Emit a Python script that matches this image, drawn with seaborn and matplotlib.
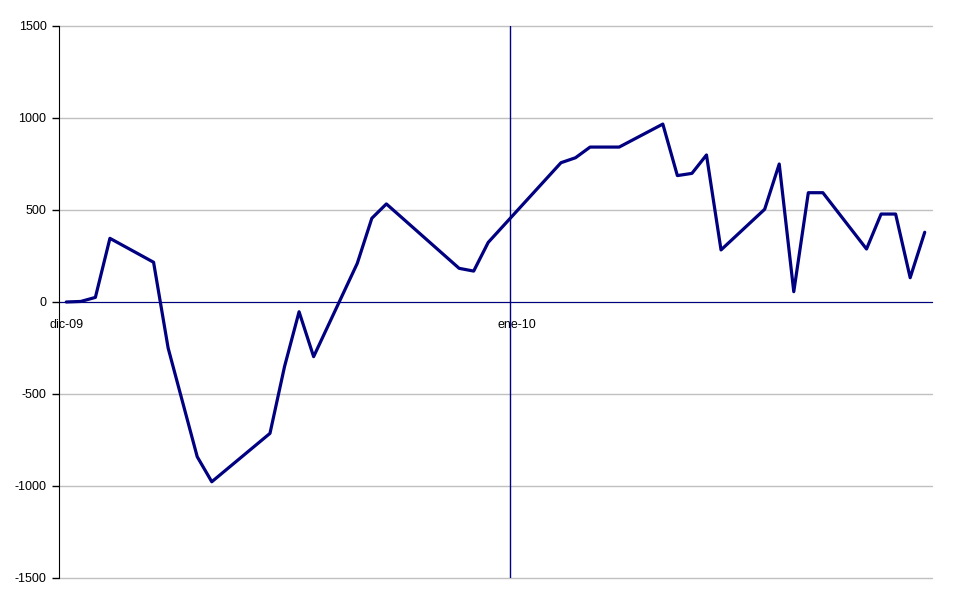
import pandas as pd
import matplotlib
matplotlib.use("Agg")
import matplotlib.pyplot as plt
import seaborn as sns

# fechas (días hábiles) y valores acumulados
dates = [
    "2009-12-01", "2009-12-02", "2009-12-03", "2009-12-04", "2009-12-07",
    "2009-12-08", "2009-12-10", "2009-12-11", "2009-12-15", "2009-12-16",
    "2009-12-17", "2009-12-18", "2009-12-21", "2009-12-22", "2009-12-23",
    "2009-12-28", "2009-12-29", "2009-12-30", "2010-01-04", "2010-01-05",
    "2010-01-06", "2010-01-08", "2010-01-11", "2010-01-12", "2010-01-13",
    "2010-01-14", "2010-01-15", "2010-01-18", "2010-01-19", "2010-01-20",
    "2010-01-21", "2010-01-22", "2010-01-25", "2010-01-26", "2010-01-27",
    "2010-01-28", "2010-01-29",
]
values = [
    0, 3, 25, 346, 216,
    -250, -841, -977, -714, -351,
    -53, -297, 210, 455, 533,
    183, 168, 324, 757, 784,
    842, 842, 967, 687, 699,
    799, 283, 504, 750, 56,
    594, 594, 288, 478, 478,
    132, 379,
]
tick_dates = ["2009-12-01", "2010-01-01"]
tick_labels = ["dic-09", "ene-10"]
yticks = [-1500, -1000, -500, 0, 500, 1000, 1500]
marker_date = "2009-12-31 12:00"

df = pd.DataFrame({"fecha": pd.to_datetime(dates), "valor": values})

sns.set_style("white")
plt.rcParams["font.family"] = ["Liberation Sans", "DejaVu Sans"]

navy = "#000080"
fig = plt.figure(figsize=(9.7, 6.04), dpi=100)
ax = fig.add_axes([59 / 970, 26 / 604, 873 / 970, 552 / 604])

sns.lineplot(data=df, x="fecha", y="valor", color=navy, linewidth=2.3, ax=ax)
ax.axvline(pd.Timestamp(marker_date), color=navy, linewidth=1)

ax.set_xlim(pd.Timestamp("2009-11-30 12:00"), pd.Timestamp("2010-01-29 12:00"))
ax.set_ylim(-1500, 1500)
ax.set_yticks(yticks)
ax.set_yticklabels([str(v) for v in yticks])
ax.yaxis.grid(True, color="#c0c0c0", linewidth=1)
for gl in ax.yaxis.get_gridlines():
    gl.set_clip_on(False)
ax.set_axisbelow(True)

ax.set_xticks(pd.to_datetime(tick_dates))
ax.set_xticklabels(tick_labels)
ax.spines["bottom"].set_position(("data", 0))
ax.spines["bottom"].set_color(navy)
ax.spines["bottom"].set_zorder(1)
ax.spines["left"].set_color("black")
ax.spines["top"].set_visible(False)
ax.spines["right"].set_visible(False)

ax.tick_params(axis="x", length=0, pad=12, labelsize=9, colors="black")
ax.tick_params(axis="y", length=5, width=1, direction="out", pad=4,
               labelsize=9, left=True, colors="black")
ax.set_xlabel("")
ax.set_ylabel("")

fig.savefig("out.png", dpi=100)
